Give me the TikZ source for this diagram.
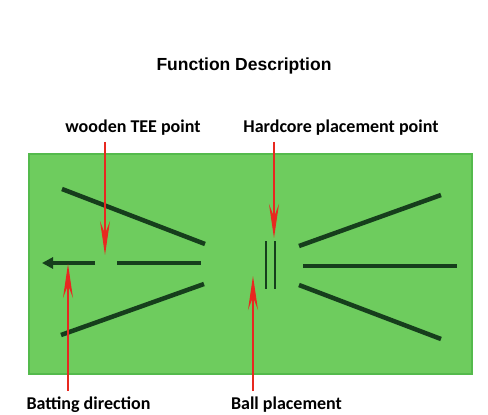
\documentclass[tikz,border=0pt]{standalone}
\usepackage{fontspec}
\setmainfont{Carlito}
\newfontfamily\titlefont{Liberation Sans}
\usetikzlibrary{arrows.meta}
\definecolor{matgreen}{RGB}{110,204,94}
\definecolor{matedge}{RGB}{84,186,76}
\definecolor{groovegreen}{RGB}{22,62,28}
\definecolor{pointred}{RGB}{232,40,32}
\tikzset{
  groove/.style={line width=4.5pt,groovegreen},
  slot/.style={line width=2.4pt,groovegreen},
  callout/.style={font=\fontsize{18}{21}\selectfont\bfseries,inner sep=0pt},
  pointer/.style={pointred,line width=1.2pt,-{Stealth[length=34pt,width=10pt,inset=13pt]}}
}

\begin{document}
\begin{tikzpicture}[x=1pt,y=-1pt]
  \useasboundingbox[fill=white] (0,0) rectangle (488,415);

  % mat
  \fill[matgreen] (28,153) rectangle (473,375);
  \draw[matedge,line width=1.5pt] (29,154) rectangle (472,374);

  % left grooves
  \draw[groove] (62,189)--(205,244);
  \draw[groove] (61,335)--(204,284);
  \draw[groove,-{Triangle[length=11pt,width=11pt]}] (95,263)--(42,263);
  \draw[groove] (117,263)--(201,263);

  % ball slots
  \draw[slot] (266,241)--(266,289);
  \draw[slot] (275,241)--(275,289);

  % right grooves
  \draw[groove] (299,246)--(441,195);
  \draw[groove] (303,266)--(457,266);
  \draw[groove] (299,285)--(441,339);

  \node[font=\titlefont\fontsize{17.5}{21}\selectfont\bfseries] (title) at (244,66) {Function Description};

  \node[callout] (wtee) at (133,128) {wooden TEE point};
  \node[callout] (hcore) at (341,128) {Hardcore placement point};
  \node[callout] (bat) at (88.5,405) {Batting direction};
  \node[callout] (ball) at (286.5,405) {Ball placement};

  \coordinate (tee) at (105,255);
  \coordinate (hard) at (274,238);
  \coordinate (dir) at (68,264);
  \coordinate (place) at (253,276);

  \draw[pointer] (wtee.south -| tee)++(0,6) -- (tee);
  \draw[pointer] (hcore.south -| hard)++(0,6) -- (hard);
  \draw[pointer] (bat.north -| dir)++(0,-6) -- (dir);
  \draw[pointer] (ball.north -| place)++(0,-6) -- (place);
\end{tikzpicture}
\end{document}
